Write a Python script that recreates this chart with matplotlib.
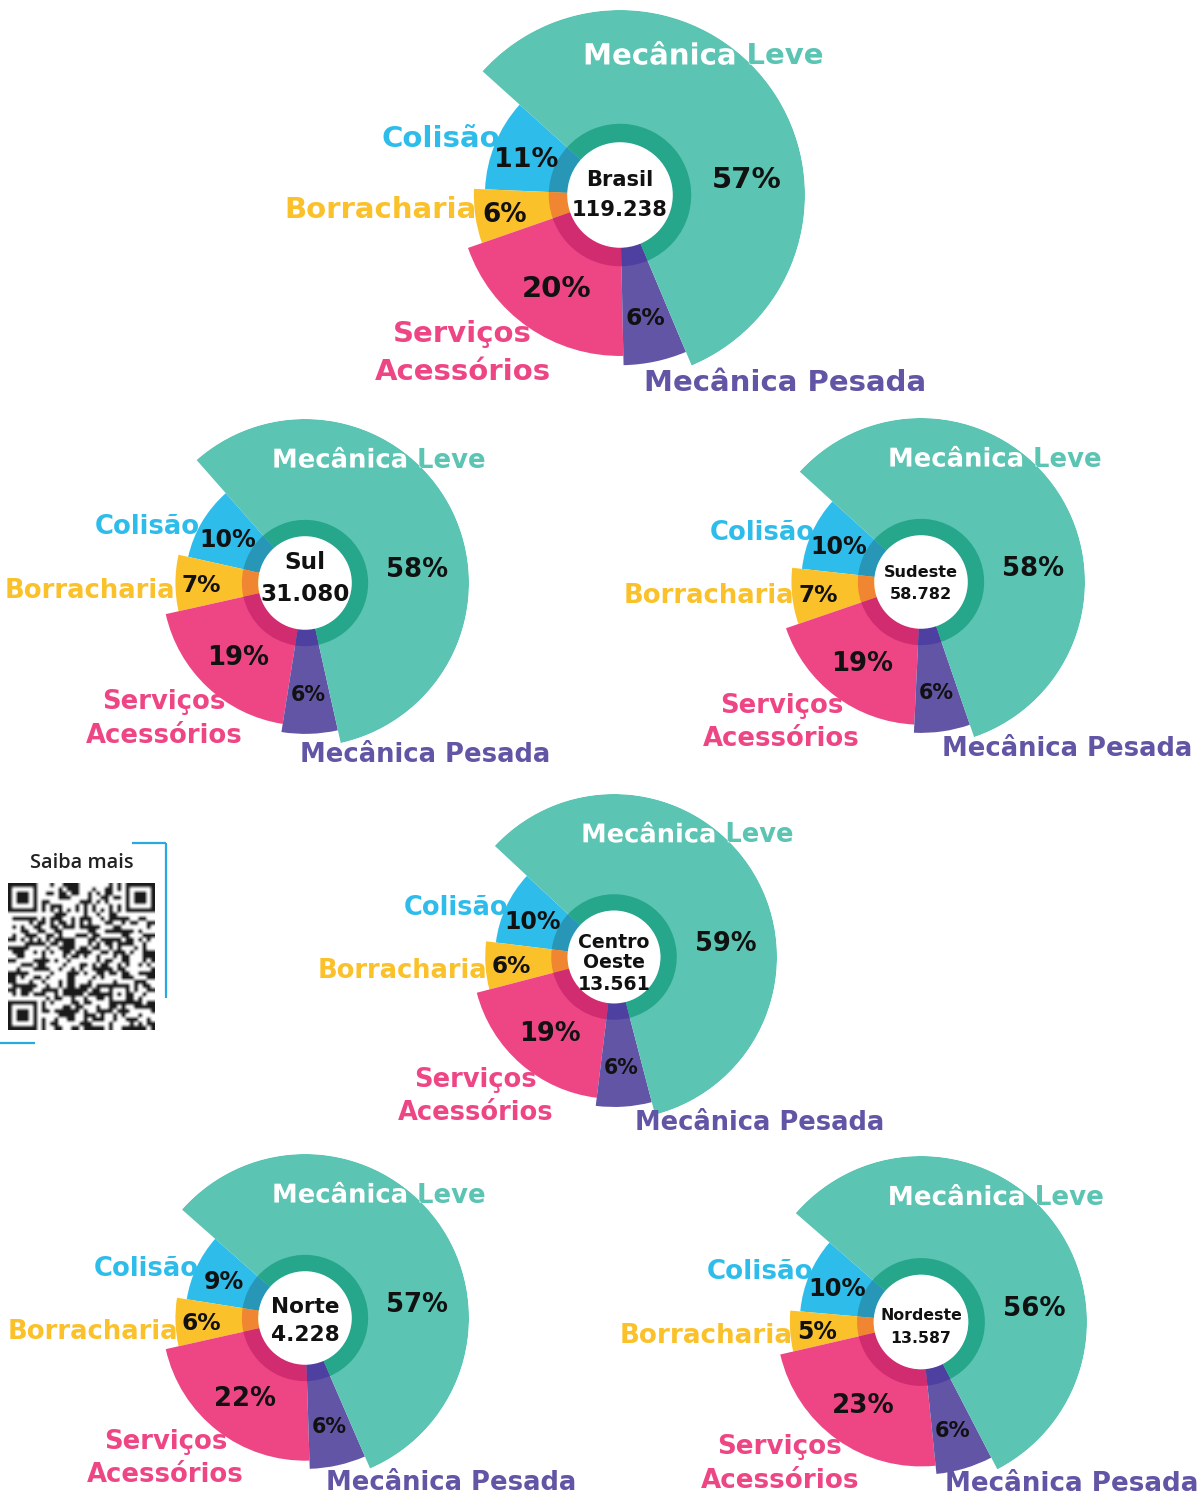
import numpy as np
import matplotlib
matplotlib.use("Agg")
import matplotlib.pyplot as plt
import matplotlib.patheffects as pe
from matplotlib.transforms import TransformedPath

W, H = 1197, 1496
FONT = ["DejaVu Sans"]

# ---------------- data ----------------
regions = ["Brasil", "Sul", "Sudeste", "Centro\nOeste", "Norte", "Nordeste"]
totals = ["119.238", "31.080", "58.782", "13.561", "4.228", "13.587"]
# counter-clockwise order of the slices
categories = ["Colisão", "Borracharia", "Serviços\nAcessórios", "Mecânica Pesada", "Mecânica Leve"]
pct_colisao = [11, 10, 10, 10, 9, 10]
pct_borracharia = [6, 7, 7, 6, 6, 5]
pct_servicos = [20, 19, 19, 19, 22, 23]
pct_pesada = [6, 6, 6, 6, 6, 6]
pct_leve = [57, 58, 58, 59, 57, 56]

# ---------------- style / layout ----------------
main_colors = ["#2EBDEA", "#FBC12B", "#EE4685", "#6255A5", "#5BC4B3"]
ring_colors = ["#2896B6", "#F08631", "#D02C6F", "#4E40A0", "#26A68A"]
label_colors = ["#2EBDEA", "#FBC12B", "#EE4685", "#6255A5", "#5BC4B3"]
radius_factor = [0.73, 0.79, 0.87, 0.92, 1.0]
hole_r, ring_r = 0.285, 0.385
centers = [(620, 195), (305, 583), (921, 582), (614, 957), (305, 1318), (921, 1322)]
radii = [185, 164, 164, 163, 164, 166]
start_deg = [138, 131.4, 137.7, 137, 138.6, 139]
center_targets = [[72, 89], [42, 87], [75, 61], [78, 66, 62], [70, 67], [87, 57]]
center_dy = [[-17, 13], [-23, 9], [-11, 11], [-17, 3, 25], [-13, 15], [-8, 15]]
pct_rad = [0.55, 0.63, 0.60, 0.67, 0.69]
pct_scale = [0.92, 0.9, 1.0, 0.8, 1.0]
leve_pct_angle = 8.0

# category label anchors (in units of R, y up)
lbl_default = {
    "leve": (0.45, 0.765),
    "col": (-0.65, 0.32),
    "borr": (-0.775, -0.065),
    "serv1": (-0.85, -0.735),
    "serv2": (-0.85, -0.94),
    "pes": (0.13, -1.0),
}
lbl_override = {
    1: {"col": (-0.64, 0.36), "borr": (-0.79, -0.03), "serv1": (-0.86, -0.71),
        "serv2": (-0.86, -0.915), "pes": (-0.03, -1.03)},
    4: {"pes": (0.13, -0.985)},
    5: {"pes": (0.145, -0.955)},
}

fig = plt.figure(figsize=(W / 100, H / 100), dpi=100)
fig.patch.set_facecolor("white")
renderer = fig.canvas.get_renderer()

ov = fig.add_axes([0, 0, 1, 1])
ov.set_xlim(0, W)
ov.set_ylim(H, 0)
ov.set_axis_off()
ov.set_zorder(10)


def width_px(s, px, family=FONT, weight="bold"):
    t = ov.text(0, 0, s, fontsize=px * 0.72, fontweight=weight, family=family)
    w = t.get_window_extent(renderer).width
    t.remove()
    return w


def fit(s, target, family=FONT, weight="bold"):
    return 20.0 * target / width_px(s, 20.0, family, weight)


def put(ax, x, y, s, px, color, ha="center", **kw):
    return ax.text(x, y, s, fontsize=px * 0.72, fontweight="bold", family=FONT,
                   color=color, ha=ha, va="center_baseline", **kw)


series = np.array([pct_colisao, pct_borracharia, pct_servicos, pct_pesada, pct_leve], dtype=float)

for i in range(len(regions)):
    cx, cy = centers[i]
    R = radii[i]
    ax = fig.add_axes([(cx - R) / W, 1 - (cy + R) / H, 2 * R / W, 2 * R / H], projection="polar")
    ax.set_axis_off()
    vals = series[:, i]
    frac = vals / vals.sum()
    widths = 2 * np.pi * frac
    starts = np.deg2rad(start_deg[i]) + np.concatenate([[0], np.cumsum(widths)[:-1]])
    bars = ax.bar(starts, R * np.array(radius_factor), width=widths, bottom=0,
                  align="edge", color=main_colors, linewidth=0)
    ax.bar(starts, (ring_r - hole_r) * R, width=widths, bottom=hole_r * R,
           align="edge", color=ring_colors, linewidth=0)
    ax.bar(0, hole_r * R, width=2 * np.pi, bottom=0, color="white", linewidth=0)
    ax.set_ylim(0, R)

    L = fit("Mecânica Pesada", 1.53 * R)

    # percentage labels
    mids = starts + widths / 2
    for k in range(5):
        ang = mids[k] if k < 4 else np.deg2rad(leve_pct_angle)
        put(ax, ang, pct_rad[k] * R, f"{int(vals[k])}%", L * pct_scale[k], "#111111", zorder=5)

    # center text
    lines = regions[i].split("\n") + [totals[i]]
    cs = float(np.mean([fit(ln, tw) for ln, tw in zip(lines, center_targets[i])]))
    for ln, dy in zip(lines, center_dy[i]):
        put(ov, cx, cy + dy, ln, cs, "#111111")

    # category labels
    lab = dict(lbl_default)
    lab.update(lbl_override.get(i, {}))

    def P(key):
        dx, dy = lab[key]
        return cx + dx * R, cy - dy * R

    x, y = P("leve")
    put(ov, x, y, categories[4], L, label_colors[4])
    wt = put(ov, x, y, categories[4], L, "white", clip_on=True,
             path_effects=[pe.Normal()])
    leve_bar = bars[4]
    wt.set_clip_path(TransformedPath(leve_bar.get_path().interpolated(300),
                                     leve_bar.get_transform()))

    x, y = P("col")
    put(ov, x, y, categories[0], L, label_colors[0], ha="right")
    x, y = P("borr")
    put(ov, x, y, categories[1], L, label_colors[1], ha="right")
    s1, s2 = categories[2].split("\n")
    x, y = P("serv1")
    put(ov, x, y, s1, L, label_colors[2])
    x, y = P("serv2")
    put(ov, x, y, s2, L, label_colors[2])
    x, y = P("pes")
    put(ov, x, y, categories[3], L, label_colors[3], ha="left")

# ---------------- "Saiba mais" box with QR-like code ----------------
blue = "#29A9E1"
ov.plot([132, 166], [843, 843], color=blue, lw=1.6, solid_capstyle="butt")
ov.plot([166, 166], [843, 998], color=blue, lw=1.6, solid_capstyle="butt")
ov.plot([0, 35], [1043, 1043], color=blue, lw=1.6, solid_capstyle="butt")
qfam = ["Open Sans", "DejaVu Sans"]
ov.text(82, 860, "Saiba mais", fontsize=fit("Saiba mais", 104, qfam, "semibold") * 0.72,
        family=qfam, fontweight="semibold", color="#222222",
        ha="center", va="center_baseline")

# decorative QR-like module grid (deterministic hash pattern)
n = 35
ii, jj = np.mgrid[0:n, 0:n].astype(np.uint64)
M = np.uint64(2 ** 32 - 1)
h = (ii * np.uint64(n) + jj + np.uint64(7)) * np.uint64(2654435761) & M
h ^= h >> np.uint64(13)
h = (h * np.uint64(1274126177)) & M
h ^= h >> np.uint64(16)
qr = ((h >> np.uint64(7)) & np.uint64(1)).astype(float)
for r0, c0 in [(0, 0), (0, n - 7), (n - 7, 0)]:
    qr[max(r0 - 1, 0):r0 + 8, max(c0 - 1, 0):c0 + 8] = 0
    qr[r0:r0 + 7, c0:c0 + 7] = 1
    qr[r0 + 1:r0 + 6, c0 + 1:c0 + 6] = 0
    qr[r0 + 2:r0 + 5, c0 + 2:c0 + 5] = 1
a0 = n - 9
qr[a0 - 2:a0 + 3, a0 - 2:a0 + 3] = 1
qr[a0 - 1:a0 + 2, a0 - 1:a0 + 2] = 0
qr[a0, a0] = 1
qr[6, 8:n - 8] = np.arange(8, n - 8) % 2 == 0
qr[8:n - 8, 6] = np.arange(8, n - 8) % 2 == 0
ov.imshow(qr, extent=(8, 155, 1030, 883), cmap="Greys", vmin=0, vmax=1.1,
          interpolation="bilinear", aspect="auto")
ov.set_xlim(0, W)
ov.set_ylim(H, 0)

fig.savefig("out.png", dpi=100, facecolor="white")
